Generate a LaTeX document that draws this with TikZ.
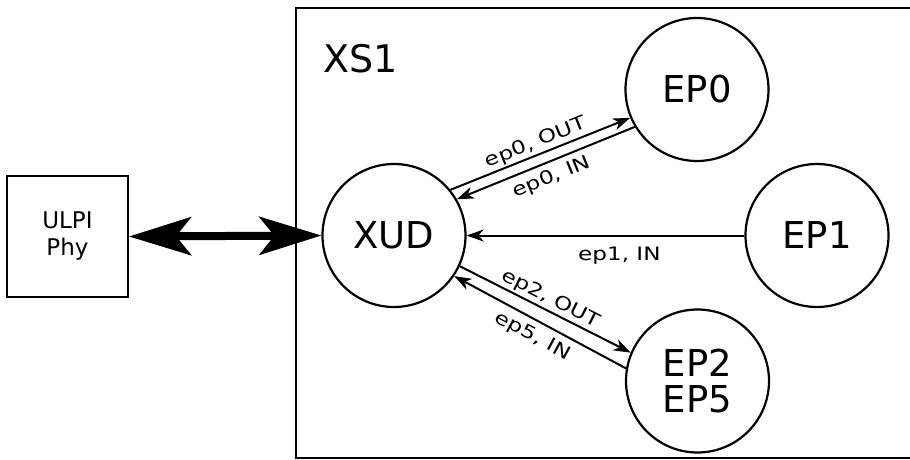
\documentclass[tikz,border=0pt]{standalone}
\usepackage{fontspec}
\setmainfont{DejaVu Sans}
\newfontfamily\wirefont[FakeStretch=1.25]{DejaVu Sans}
\usetikzlibrary{
    positioning,
    arrows.meta
}

\begin{document}
\begin{tikzpicture}[x=1pt, y=-1pt, >={Stealth[length=17pt, width=12pt, inset=5pt]},
    epnode/.style={circle, draw, line width=2.2pt, minimum size=143pt, inner sep=0pt,
        align=center, font=\fontsize{37}{36}\selectfont},
    wire/.style={->, line width=2pt},
    wlabel/.style={sloped, inner sep=2pt, font=\wirefont\fontsize{18.5}{18.5}\selectfont}]
    \useasboundingbox (0,0) rectangle (910,460);

    % XS1 の枠
    \draw[line width=2.4pt] (915,8) -- (296,8) -- (296,458) -- (915,458);
    \node[font=\fontsize{38}{38}\selectfont] (xs1) at (361,59) {XS1};

    % ノード
    \node[draw, line width=2pt, minimum width=121pt, minimum height=121pt, align=center,
        font=\fontsize{23}{27}\selectfont] (ulpi) at (67.5,236.5) {ULPI\\Phy};
    \node[epnode] (xud) at (394,235.5) {XUD};
    \node[epnode] (ep0) at (697,89.5) {EP0};
    \node[epnode] (ep1) at (817,235.5) {EP1};
    \node[epnode] (ep25) at (697.5,381) {EP2\\EP5};

    % ULPI とのリンク
    \draw[line width=8pt, {Stealth[length=62pt, width=38pt, inset=15pt]}-{Stealth[length=62pt, width=38pt, inset=15pt]}]
        (ulpi.east) -- (xud.west);

    % エンドポイント
    \draw[wire] (xud.39) -- (ep0.203) node[wlabel, above, midway] {ep0, OUT};
    \draw[wire] (ep0.211) -- (xud.30) node[wlabel, below, midway, inner sep=6pt] {ep0, IN};
    \draw[wire] (ep1.west) -- (xud.east) node[wlabel, below, pos=0.45, inner sep=11pt] {ep1, IN};
    \draw[wire] (xud.335) -- (ep25.157) node[wlabel, above, midway] {ep2, OUT};
    \draw[wire] (ep25.170) -- (xud.326) node[wlabel, below, midway, inner sep=6.5pt] {ep5, IN};
\end{tikzpicture}
\end{document}
